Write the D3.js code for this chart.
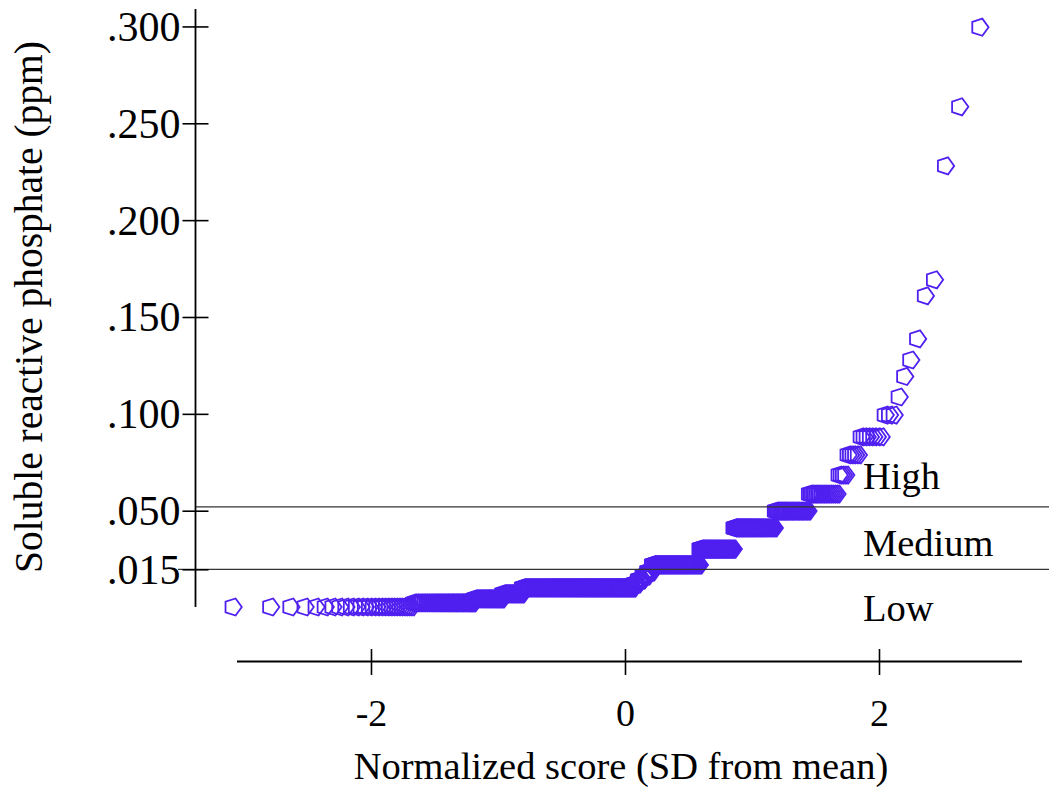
<!DOCTYPE html>
<html><head><meta charset="utf-8">
<script src="https://cdn.jsdelivr.net/npm/d3@7"></script>
<style>
html,body{margin:0;padding:0;background:#fff;}
svg text{font-family:"Liberation Serif","Times New Roman",serif;fill:#000;}
</style></head>
<body>
<svg id="chart" width="1049" height="787"></svg>
<script>
// Sorted phosphate levels (ppm) and how many samples sit at each level
const levelValues = [0.0000, 0.0016, 0.0032, 0.0052, 0.0076, 0.0092, 0.0108, 0.0124, 0.0140,
  0.0176, 0.0271, 0.0397, 0.0498, 0.0586, 0.0684, 0.0788, 0.0881, 0.0994,
  0.1087, 0.1193, 0.1278, 0.1387, 0.1609, 0.1692, 0.2280, 0.2585, 0.2996, 0.3500];
const levelCounts = [29, 43, 31, 26, 197, 9, 9, 9, 9,
  85, 51, 48, 28, 17, 4, 5, 7, 3,
  1, 1, 1, 1, 1, 1, 1, 1, 1, 1];
const yTickValues = [0.015, 0.05, 0.10, 0.15, 0.20, 0.25, 0.30];
const yTickLabels = [".015", ".050", ".100", ".150", ".200", ".250", ".300"];
const xTickValues = [-2, 0, 2];
const xTickLabels = ["-2", "0", "2"];
const classBreaks = [0.015, 0.052];
const classNames = ["Low", "Medium", "High"];
const classLabelValues = [-0.0056, 0.0229, 0.0612];

// Inverse normal CDF (Acklam)
function probit(p){
  const a=[-3.969683028665376e+01,2.209460984245205e+02,-2.759285104469687e+02,1.383577518672690e+02,-3.066479806614716e+01,2.506628277459239e+00];
  const b=[-5.447609879822406e+01,1.615858368580409e+02,-1.556989798598866e+02,6.680131188771972e+01,-1.328068155288572e+01];
  const c=[-7.784894002430293e-03,-3.223964580411365e-01,-2.400758277161838e+00,-2.549732539343734e+00,4.374664141464968e+00,2.938163982698783e+00];
  const d=[7.784695709041462e-03,3.224671290700398e-01,2.445134137142996e+00,3.754408661907416e+00];
  const pl=0.02425, ph=1-pl; let q,r;
  if(p<pl){q=Math.sqrt(-2*Math.log(p));return (((((c[0]*q+c[1])*q+c[2])*q+c[3])*q+c[4])*q+c[5])/((((d[0]*q+d[1])*q+d[2])*q+d[3])*q+1);}
  if(p<=ph){q=p-0.5;r=q*q;return (((((a[0]*r+a[1])*r+a[2])*r+a[3])*r+a[4])*r+a[5])*q/(((((b[0]*r+b[1])*r+b[2])*r+b[3])*r+b[4])*r+1);}
  q=Math.sqrt(-2*Math.log(1-p));return -(((((c[0]*q+c[1])*q+c[2])*q+c[3])*q+c[4])*q+c[5])/((((d[0]*q+d[1])*q+d[2])*q+d[3])*q+1);
}

const values = [];
levelValues.forEach((v,i)=>{ for(let k=0;k<levelCounts[i];k++) values.push(v); });
const n = values.length;
const points = values.map((v,i)=>({score: probit((i+1-0.375)/(n+0.25)), value: v}));

const svg = d3.select("#chart");
const x = d3.scaleLinear().domain([-3.055, 3.126]).range([237, 1022]);
const y = d3.scaleLinear().domain([0, 0.015, 0.05, 0.309]).range([607, 569.3, 510.7, 9]);
const yMax = 0.309;

// points
const pentagon = { draw(ctx, size){
  const r = Math.sqrt(size/(2.5*Math.sin(2*Math.PI/5)));
  for(let i=0;i<5;i++){ const a=i*2*Math.PI/5; const px=r*Math.cos(a), py=r*Math.sin(a);
    if(i===0) ctx.moveTo(px,py); else ctx.lineTo(px,py);} ctx.closePath(); } };
const markerR = 9;
const sym = d3.symbol().type(pentagon).size(2.5*markerR*markerR*Math.sin(2*Math.PI/5));
svg.append("g").selectAll("path").data(points.filter(d=>d.value<=yMax)).join("path")
  .attr("transform", d=>`translate(${x(d.score)},${y(d.value)})`)
  .attr("d", sym).attr("fill","none").attr("stroke","#5020f0").attr("stroke-width",1.8);

// class lines
svg.append("g").selectAll("line").data(classBreaks).join("line")
  .attr("x1",(d,i)=> i===0?178:195.5).attr("x2",1049)
  .attr("y1",d=>y(d)).attr("y2",d=>y(d)).attr("stroke","#333").attr("stroke-width",1.2);
svg.append("g").selectAll("text").data(classNames).join("text")
  .attr("x",863).attr("y",(d,i)=>y(classLabelValues[i])).attr("font-size",38.5).text(d=>d);

// y axis
svg.append("line").attr("x1",195.5).attr("x2",195.5).attr("y1",y(yMax)).attr("y2",y(0))
  .attr("stroke","#000").attr("stroke-width",1.8);
const yAxis = d3.axisLeft(y).tickValues(yTickValues).tickFormat((d,i)=>yTickLabels[i]).tickSize(26).tickPadding(2);
const gy = svg.append("g").attr("transform","translate(208.5,0)").call(yAxis);
gy.select(".domain").remove();
gy.selectAll(".tick line").attr("stroke","#000").attr("stroke-width",1.6);
gy.selectAll(".tick text").attr("font-size",42).attr("font-family","Liberation Serif").attr("dy","0.33em").attr("fill","#000");

// x axis
svg.append("line").attr("x1",x.range()[0]).attr("x2",x.range()[1]).attr("y1",661.5).attr("y2",661.5)
  .attr("stroke","#000").attr("stroke-width",1.8);
const xAxis = d3.axisBottom(x).tickValues(xTickValues).tickFormat((d,i)=>xTickLabels[i]).tickSize(26).tickPadding(24);
const gx = svg.append("g").attr("transform","translate(0,649)").call(xAxis);
gx.select(".domain").remove();
gx.selectAll(".tick line").attr("stroke","#000").attr("stroke-width",1.6);
gx.selectAll(".tick text").attr("font-size",38).attr("font-family","Liberation Serif").attr("fill","#000");

// titles
svg.append("text").attr("x",621).attr("y",779).attr("text-anchor","middle").attr("font-size",38.5)
  .text("Normalized score (SD from mean)");
svg.append("text").attr("transform","translate(42,307) rotate(-90)").attr("text-anchor","middle").attr("font-size",39.5)
  .text("Soluble reactive phosphate (ppm)");
</script>
</body></html>
